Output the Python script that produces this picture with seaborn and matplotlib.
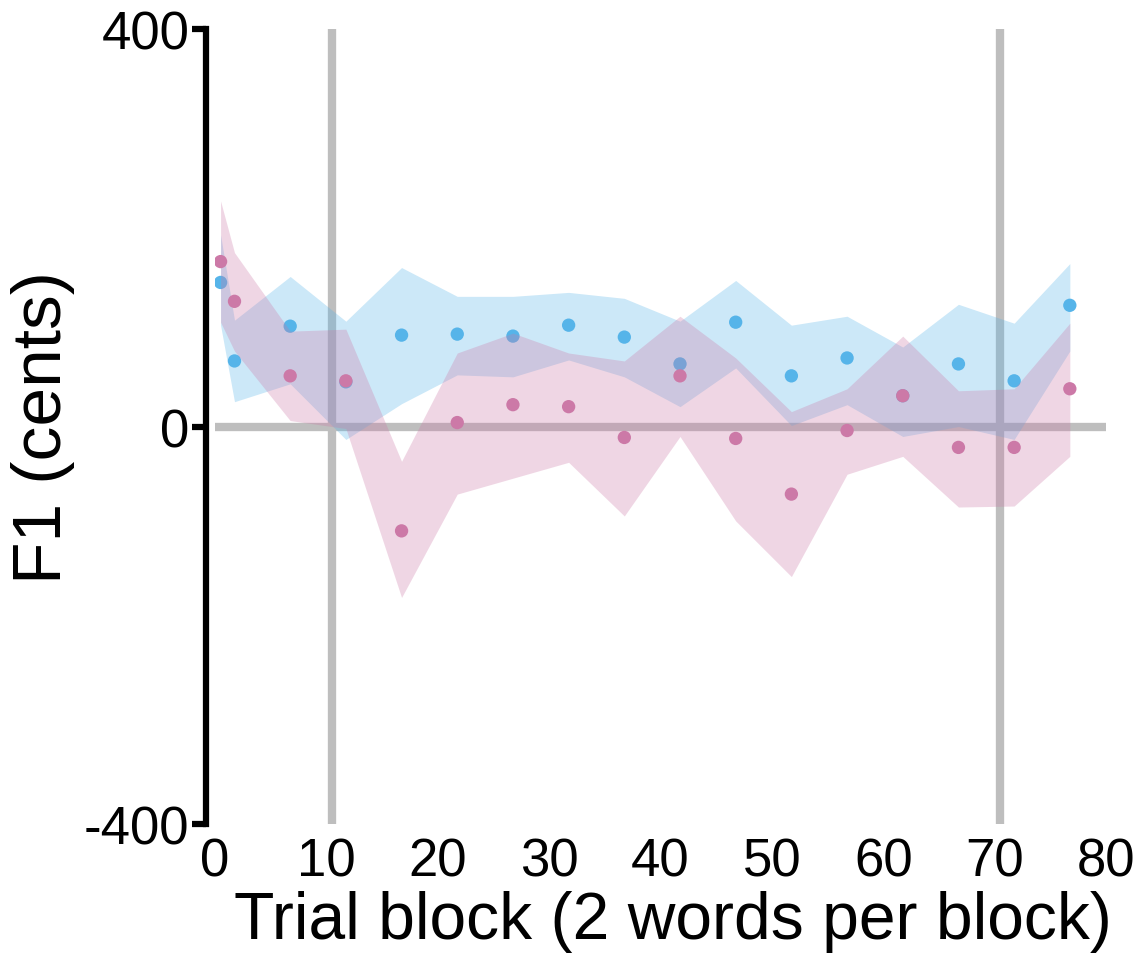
import matplotlib
matplotlib.use("Agg")
import matplotlib.pyplot as plt
import seaborn as sns
import pandas as pd

# Trial block positions at which F1 was summarised
blocks = [0.5, 1.75, 6.75, 11.75, 16.75, 21.75, 26.75, 31.75, 36.75,
          41.75, 46.75, 51.75, 56.75, 61.75, 66.75, 71.75, 76.75]

# Group 1 (blue): mean F1 change and its confidence band, in cents
blue_mean = [145, 66, 101, 45, 92, 93, 91, 102, 90, 63, 105, 51, 69, 31, 63, 46, 122]
blue_upper = [193, 107, 151, 106, 160, 131, 131, 135, 129, 106, 147, 102, 111, 80, 123, 104, 164]
blue_lower = [102, 25, 43, -13, 23, 52, 50, 67, 50, 20, 59, 1, 22, -10, 0, -13, 76]

# Group 2 (pink): mean F1 change and its confidence band, in cents
pink_mean = [166, 126, 51, 46, -105, 4, 22, 20, -11, 51, -12, -68, -4, 31, -21, -21, 38]
pink_upper = [227, 175, 96, 98, -35, 74, 94, 74, 66, 111, 69, 15, 38, 91, 36, 38, 104]
pink_lower = [105, 76, 6, -2, -172, -68, -52, -36, -90, -10, -95, -151, -48, -30, -81, -80, -30]

# Phase boundaries (trial block) and axis ticks
phase_lines = [10.5, 70.5]
x_ticks = [0, 10, 20, 30, 40, 50, 60, 70, 80]
y_ticks = [-400, 0, 400]

BLUE = "#56b4e9"
PINK = "#cc79a7"
GREY = "#bebebe"

sns.set_theme(style="ticks", rc={"text.color": "black",
                                 "axes.labelcolor": "black",
                                 "xtick.color": "black",
                                 "ytick.color": "black"})
plt.rcParams["font.family"] = ["Liberation Sans", "DejaVu Sans"]

fig = plt.figure(figsize=(11.4, 9.54), dpi=100)
ax = fig.add_axes([0.1886, 0.1352, 0.7816, 0.8333])

df_blue = pd.DataFrame({"block": blocks, "f1": blue_mean})
df_pink = pd.DataFrame({"block": blocks, "f1": pink_mean})

# reference lines beneath the shaded bands
for xv in phase_lines:
    ax.axvline(xv, color=GREY, lw=6, zorder=0)
ax.axhline(0, color=GREY, lw=6, zorder=0)

ax.fill_between(blocks, blue_lower, blue_upper, color=BLUE, alpha=0.3,
                lw=0, zorder=1)
sns.scatterplot(data=df_blue, x="block", y="f1", color=BLUE, s=92,
                edgecolor="none", ax=ax, zorder=2)
ax.fill_between(blocks, pink_lower, pink_upper, color=PINK, alpha=0.3,
                lw=0, zorder=3)
sns.scatterplot(data=df_pink, x="block", y="f1", color=PINK, s=92,
                edgecolor="none", ax=ax, zorder=4)

ax.set_xlim(0, 80)
ax.set_ylim(-400, 400)
ax.set_xticks(x_ticks)
ax.set_yticks(y_ticks)
ax.set_xticklabels([str(t) for t in x_ticks])
ax.set_yticklabels([str(t) for t in y_ticks])

sns.despine(ax=ax, bottom=True)
ax.spines["left"].set_position(("outward", 6.5))
ax.spines["left"].set_linewidth(4.5)
ax.spines["left"].set_color("black")

ax.tick_params(axis="y", length=10, width=4.5, labelsize=38, pad=2)
ax.tick_params(axis="x", length=0, labelsize=38, pad=9)

ax.set_xlabel("Trial block (2 words per block)", fontsize=47.5)
ax.xaxis.set_label_coords(0.514, -0.083)
ax.set_ylabel("F1 (cents)", fontsize=50, labelpad=6)
ax.grid(False)

fig.savefig("out.png", dpi=100, facecolor="white")
